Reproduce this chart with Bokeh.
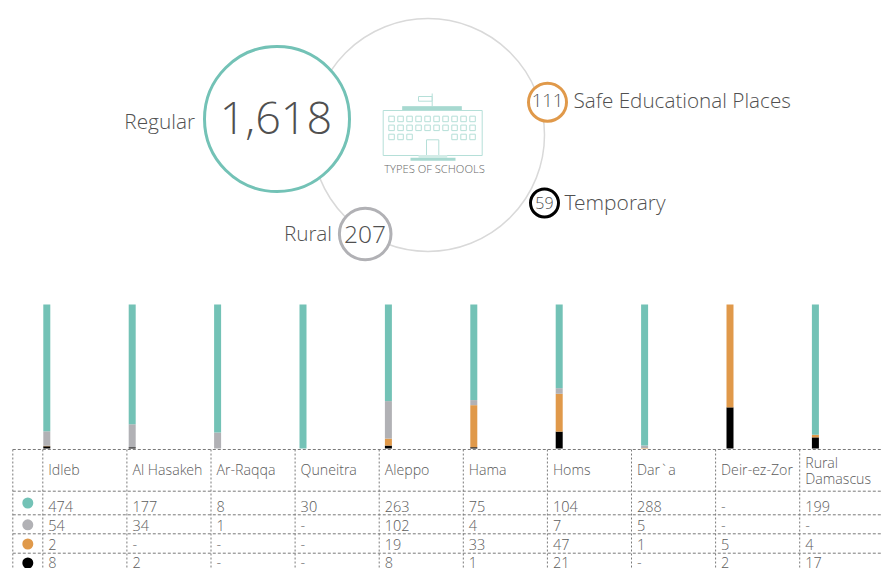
from bokeh.plotting import figure
from bokeh.embed import file_html
from bokeh.resources import INLINE
from bokeh.core.properties import value

districts = ["Idleb", "Al Hasakeh", "Ar-Raqqa", "Quneitra", "Aleppo", "Hama", "Homs", "Dar`a", "Deir-ez-Zor", "Rural\nDamascus"]
regular = [474, 177, 8, 30, 263, 75, 104, 288, 0, 199]
rural = [54, 34, 1, 0, 102, 4, 7, 5, 0, 0]
safe_places = [2, 0, 0, 0, 19, 33, 47, 1, 5, 4]
temporary = [8, 2, 0, 0, 8, 1, 21, 0, 2, 17]
series_colors = ["#73c2b6", "#b1b1b5", "#e0994a", "#000000"]
type_labels = ["Regular", "Rural", "Safe Educational Places", "Temporary"]
type_totals = ["1,618", "207", "111", "59"]

FONT = "Open Sans Light"
TXT = "#505050"
TABLE_TXT = "#5c5c5c"
W, H = 882, 568
p = figure(width=W, height=H, x_range=(0, W), y_range=(H, 0), output_backend="svg",
           toolbar_location=None, min_border=0, outline_line_color=None, background_fill_color="white",
           border_fill_color="white")
p.axis.visible = False
p.grid.visible = False


def txt(x, y, s, size, align="left", color=TXT):
    p.text([x], [y], text=[s], text_font=value(FONT), text_font_size=f"{size}px", text_color=color,
           text_align=align, text_baseline="middle")


# ---- big ring and bubbles
p.circle([427.5], [134.5], radius=116.5, fill_color=None, line_color="#d9d9d9", line_width=1.5)
bub = [(276.5, 118.5, 72.5), (364.7, 233.5, 25.8), (547, 101.7, 19), (544, 202.5, 14)]
for (cx, cy, r), c in zip(bub, series_colors):
    p.circle([cx], [cy], radius=r, fill_color="white", line_color=c, line_width=3)
txt(275.5, 117, type_totals[0], 45, "center")
txt(364.5, 234, type_totals[1], 24.5, "center")
txt(547, 100, type_totals[2], 18.5, "center")
txt(544, 202, type_totals[3], 16, "center")
txt(194.5, 120, type_labels[0], 20.8, "right")
txt(331.5, 232.5, type_labels[1], 20.8, "right")
txt(573, 99.5, type_labels[2], 20.7)
txt(564, 201.5, type_labels[3], 21)

# ---- building icon
IC = "#b5dfd8"
p.quad(left=[382.7], right=[481.7], top=[110], bottom=[155], fill_color="white", line_color=IC, line_width=1)
p.quad(left=[402], right=[461], top=[106], bottom=[110], fill_color="#a7d9d0", line_color=IC)
p.segment([431.7], [93], [431.7], [106], line_color=IC, line_width=1)
p.quad(left=[418], right=[431.5], top=[96], bottom=[100.7], fill_color="white", line_color=IC)
wl, wt = [], []
for row, top in enumerate([115.7, 124.6, 133.7]):
    for col in range(10):
        if row == 2 and 3 <= col <= 6:
            continue
        wl.append(388.3 + 9 * col)
        wt.append(top)
p.quad(left=wl, right=[a + 5.5 for a in wl], top=wt, bottom=[a + 5.5 for a in wt], fill_color="white", line_color=IC)
p.quad(left=[426], right=[438.3], top=[139.3], bottom=[155], fill_color="white", line_color=IC)
p.quad(left=[418], right=[446.7], top=[154.5], bottom=[157.3], fill_color="#d3ece7", line_color=None)
p.quad(left=[410], right=[455], top=[157.3], bottom=[160.3], fill_color="#a7d9d0", line_color=None)
txt(434, 168, "TYPES OF SCHOOLS", 11.2, "center", "#6a6a6a")

# ---- 100% stacked bars
BAR_BOTTOM, BAR_H = 448, 144
for i in range(len(districts)):
    vals = [regular[i], rural[i], safe_places[i], temporary[i]]
    total = sum(vals)
    cx = 46.3 + 85.4 * i
    base = BAR_BOTTOM
    for v, c in reversed(list(zip(vals, series_colors))):
        if not v:
            continue
        h = BAR_H * v / total
        p.quad(left=[cx - 3.5], right=[cx + 3.5], top=[base - h], bottom=[base], fill_color=c, line_color=None)
        base -= h

# ---- table
GRID = "#7a7a7a"
col_x = [12.3] + [42.3 + 84.1 * k for k in range(10)]
row_y = [449, 490.7, 514.3, 533.3, 552.7]
p.segment(col_x, [449] * len(col_x), col_x, [H] * len(col_x), line_color=GRID, line_width=1, line_dash="2 2")
p.segment([12.3] * len(row_y), row_y, [W] * len(row_y), row_y, line_color=GRID, line_width=1, line_dash="3 2")

rows_y = [506, 525, 544, 561.5]
dots_y = [502.5, 524.3, 543.5, 562.5]
p.circle([27.3] * 4, dots_y, radius=5.5, fill_color=series_colors, line_color=None)
for i, name in enumerate(districts):
    x = col_x[i + 1] + 5.5
    if "\n" in name:
        a, b = name.split("\n")
        txt(x, 462, a, 14.2, color=TABLE_TXT)
        txt(x, 478, b, 14.2, color=TABLE_TXT)
    else:
        txt(x, 469, name, 14.2, color=TABLE_TXT)
    for s, y in zip([regular, rural, safe_places, temporary], rows_y):
        txt(x, y, str(s[i]) if s[i] else "-", 14.5, color=TABLE_TXT)

open("out.html", "w").write(file_html(p, INLINE))
